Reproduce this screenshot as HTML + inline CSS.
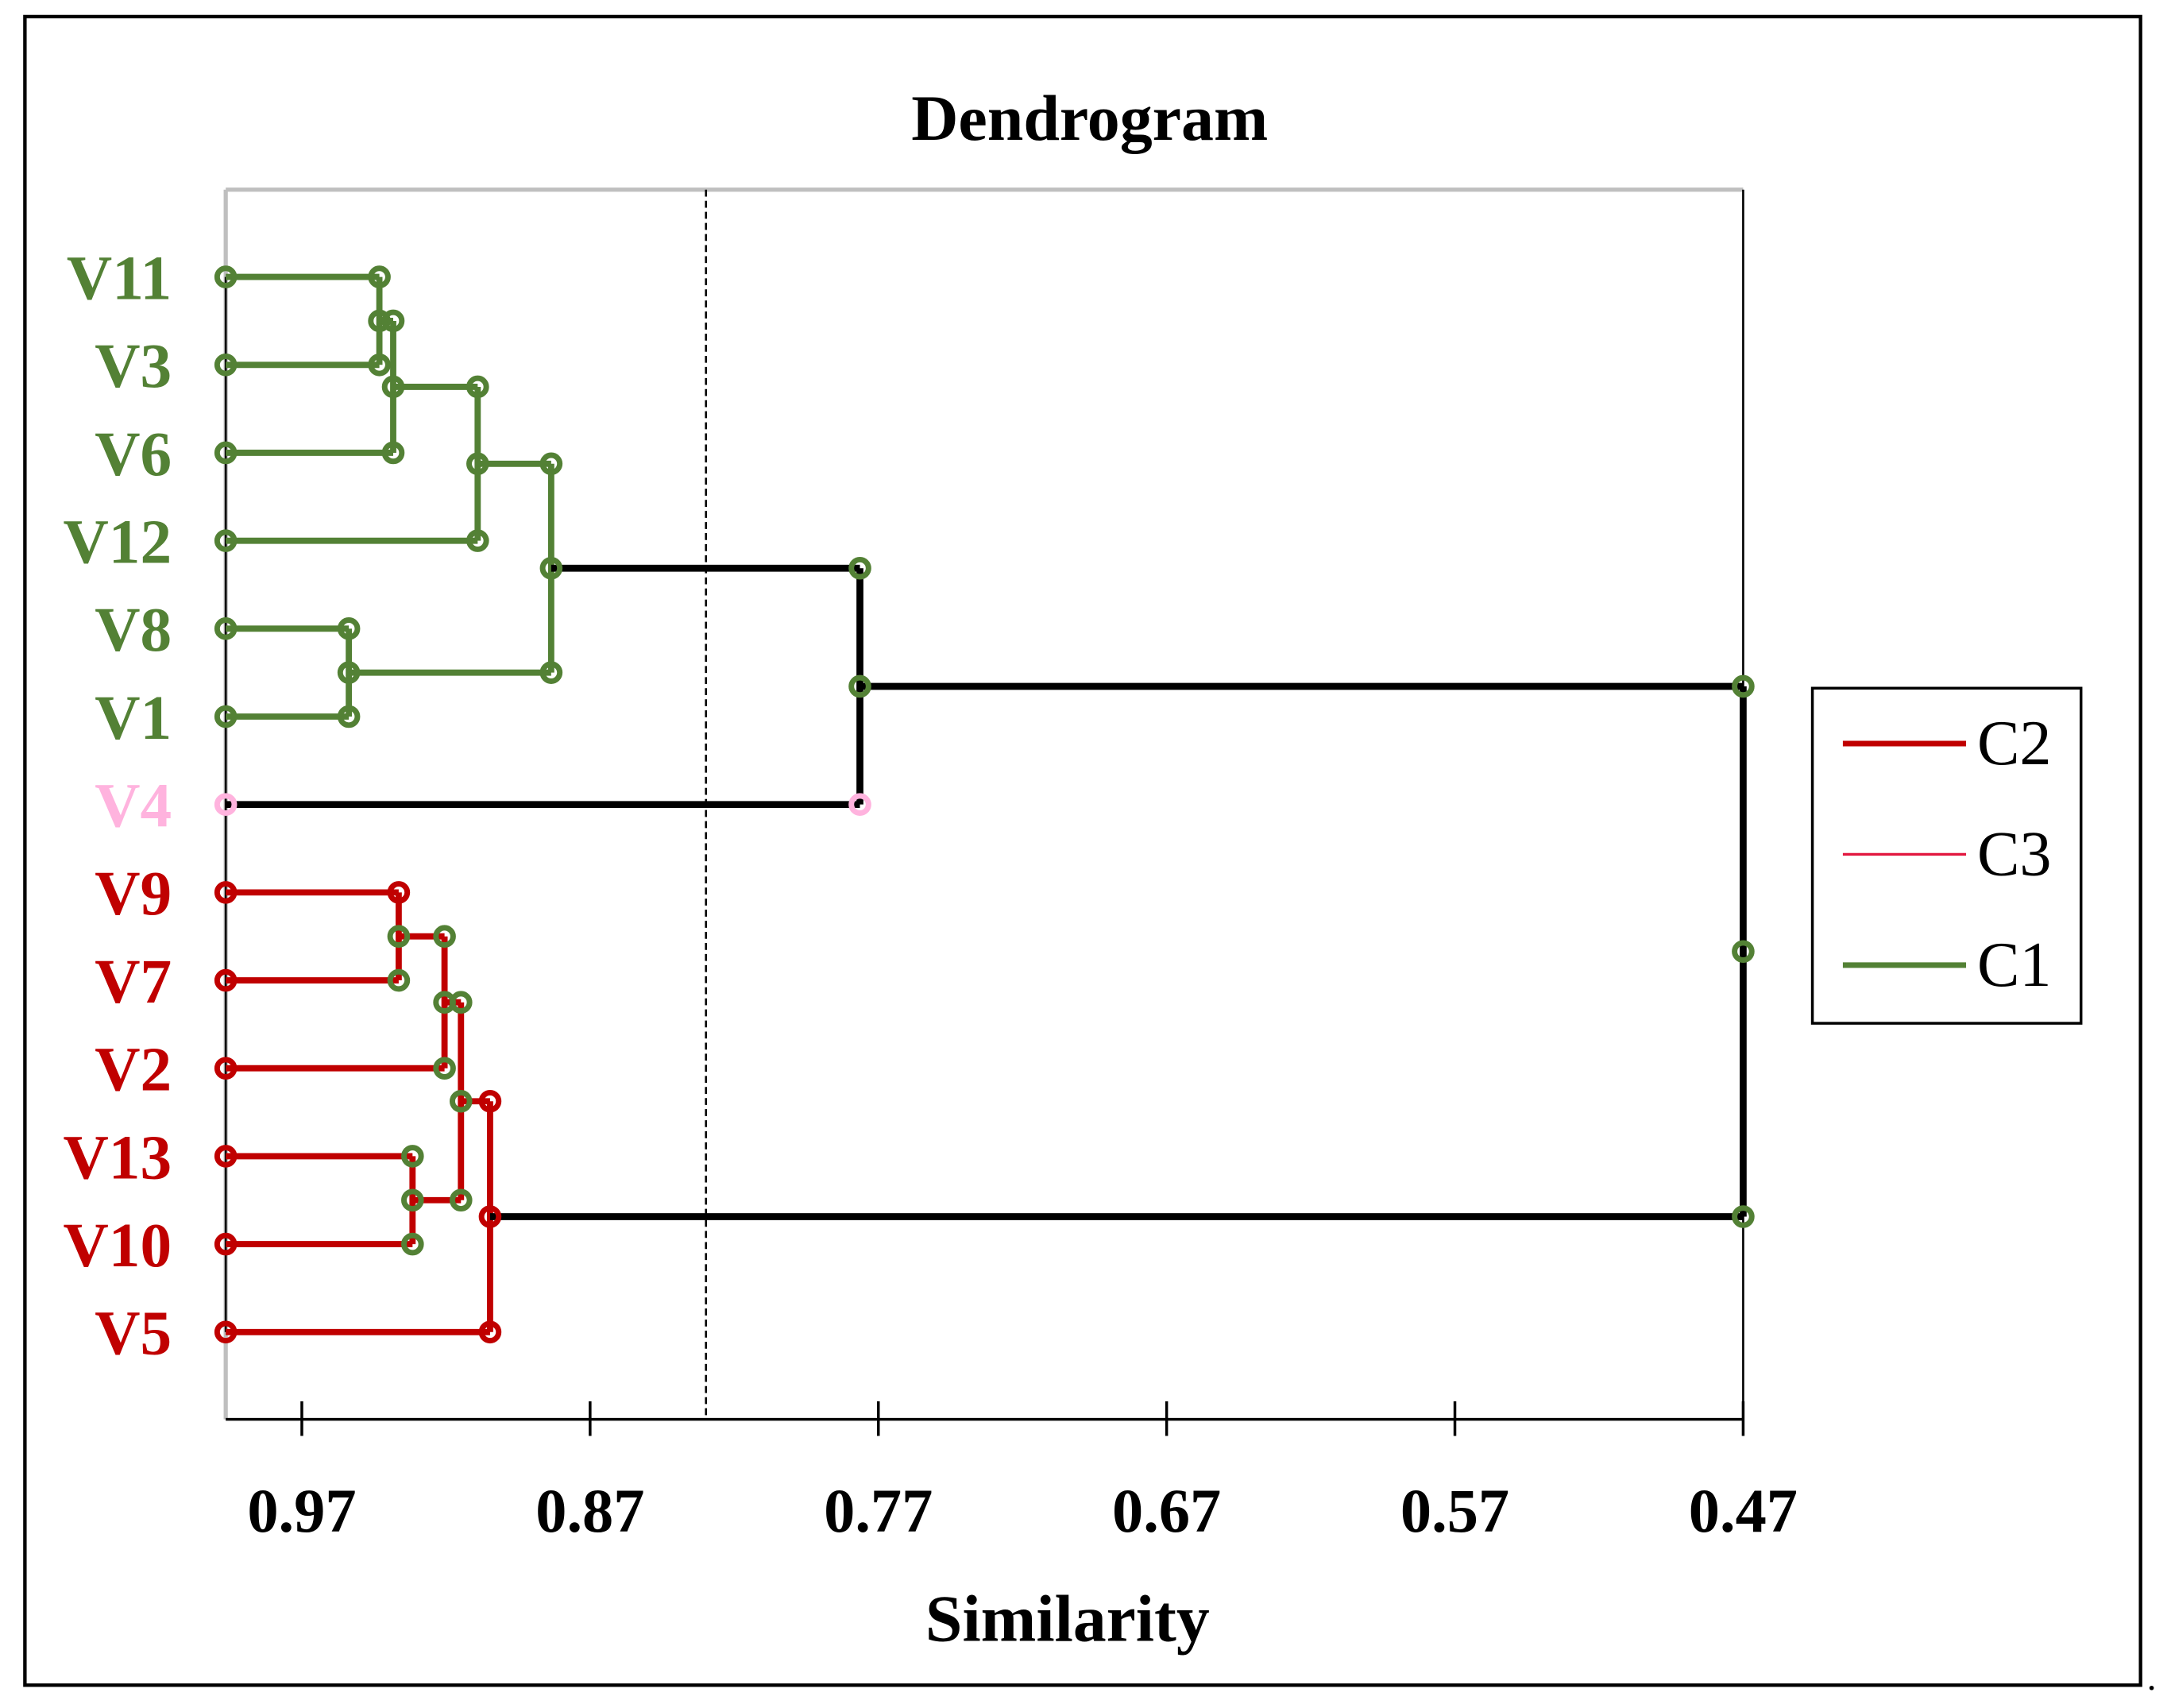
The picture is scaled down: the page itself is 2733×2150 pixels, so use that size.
<!DOCTYPE html>
<html><head><meta charset="utf-8"><style>
html,body{margin:0;padding:0;background:#fff}
svg{display:block}
text{font-family:"Liberation Serif",serif;font-weight:bold}
</style></head><body>
<svg id="chart" width="2733" height="2150" viewBox="0 0 1568 1233.5" preserveAspectRatio="none" xmlns="http://www.w3.org/2000/svg">
<rect x="18" y="12" width="1528" height="1205" fill="none" stroke="#000" stroke-width="2.5"/>
<text x="787" y="101" font-size="47" text-anchor="middle">Dendrogram</text>
<g id="plot"></g>
<text x="771" y="1185" font-size="48" text-anchor="middle">Similarity</text>
<g>
<rect x="1309" y="497" width="194" height="242" fill="#fff" stroke="#000" stroke-width="2"/>
<line x1="1331" y1="537" x2="1420" y2="537" stroke="#C00000" stroke-width="4"/>
<text x="1428" y="552" font-size="46" style="font-weight:normal">C2</text>
<line x1="1331" y1="617" x2="1420" y2="617" stroke="#E2173F" stroke-width="2"/>
<text x="1428" y="632" font-size="46" style="font-weight:normal">C3</text>
<line x1="1331" y1="697" x2="1420" y2="697" stroke="#538135" stroke-width="4"/>
<text x="1428" y="712" font-size="46" style="font-weight:normal">C1</text>
</g>
<circle cx="1554" cy="1219" r="1.6" fill="#000"/>
</svg>
<script>
const leafNames=["V11","V3","V6","V12","V8","V1","V4","V9","V7","V2","V13","V10","V5"];
const leafColors=["#538135","#538135","#538135","#538135","#538135","#538135","#FFB3DE","#C00000","#C00000","#C00000","#C00000","#C00000","#C00000"];
const mergeLeft=[0,13,14,4,15,17,7,19,10,20,22,18];
const mergeRight=[1,2,3,5,16,6,8,9,11,21,12,23];
const mergeSim=[0.9431,0.9383,0.909,0.9537,0.8835,0.7764,0.9364,0.9205,0.9316,0.9148,0.9047,0.47];
const mergeColor=["#538135","#538135","#538135","#538135","#538135","#000","#C00000","#C00000","#C00000","#C00000","#C00000","#000"];
const tickValues=[0.97,0.87,0.77,0.67,0.57,0.47];
const tickLabels=["0.97","0.87","0.77","0.67","0.57","0.47"];
const cutoff=0.8298;
const leafSim=0.9964;

const NS="http://www.w3.org/2000/svg";
const g=document.getElementById('plot');
const X0=218,PX=2082;
function xScale(s){return X0+(0.97-s)*PX;}
function yLeaf(i){return 200+i*63.5;}
const axL=xScale(leafSim),axR=xScale(0.47),plotTop=137,plotBot=1025;
function mk(tag,attrs){const e=document.createElementNS(NS,tag);for(const k in attrs)e.setAttribute(k,attrs[k]);g.appendChild(e);return e;}
function line(x1,y1,x2,y2,c,w,name){const e=mk('line',{x1:x1,y1:y1,x2:x2,y2:y2,stroke:c,'stroke-width':w});


return e;}
function circ(x,y,c,name){const e=mk('circle',{cx:x,cy:y,r:6.2,fill:'none',stroke:c,'stroke-width':4});


return e;}
line(axL,plotTop,axR,plotTop,'#BFBFBF',3,'plot-top-border');
line(axL,plotTop,axL,plotBot,'#BFBFBF',3,'plot-left-border');
line(axL,yLeaf(0),axL,yLeaf(12),'#000',1.5,'leaf-axis-line');
line(axR,plotTop,axR,plotBot,'#000',1.5,'plot-right-border');
line(axL,plotBot,axR,plotBot,'#000',2,'x-axis-line');
tickValues.forEach((v,i)=>{
  const x=xScale(v);
  line(x,1012,x,1037,'#000',2,'x-tick');
  const t=mk('text',{x:x,y:1106,'font-size':45,'text-anchor':'middle'});t.textContent=tickLabels[i];
  
  
});
const cx=xScale(cutoff);
const dl=line(cx,plotTop,cx,plotBot,'#000',1.5,'cutoff-line');dl.setAttribute('stroke-dasharray','5,3');
const nodeX=[],nodeY=[];
leafNames.forEach((n,i)=>{nodeX[i]=axL;nodeY[i]=yLeaf(i);});
const circles=[];
mergeSim.forEach((s,k)=>{
  const id=13+k,a=mergeLeft[k],b=mergeRight[k],x=xScale(s),c=mergeColor[k];
  const w=c==='#000'?5:4.5;
  line(nodeX[a],nodeY[a],x,nodeY[a],c,w,'branch-'+id);
  line(nodeX[b],nodeY[b],x,nodeY[b],c,w,'branch-'+id);
  line(x,nodeY[a],x,nodeY[b],c,w,'link-'+id);
  nodeX[id]=x;nodeY[id]=(nodeY[a]+nodeY[b])/2;
  let ca='#538135',cb='#538135',cm='#538135';
  if(id===23){ca=cb=cm='#C00000';}
  if(id===19){ca='#C00000';}
  if(b===6){cb='#FFB3DE';}
  circles.push([x,nodeY[a],ca],[x,nodeY[b],cb],[x,nodeY[id],cm]);
});
leafNames.forEach((n,i)=>{
  circ(axL,yLeaf(i),leafColors[i],'leaf-marker-'+n.toLowerCase());
  const t=mk('text',{x:124,y:yLeaf(i)+16,'font-size':45.5,'text-anchor':'end',fill:leafColors[i]});t.textContent=n;
  
  
});
circles.forEach(c=>{circ(c[0],c[1],c[2],'node-marker');});
</script>
</body></html>
